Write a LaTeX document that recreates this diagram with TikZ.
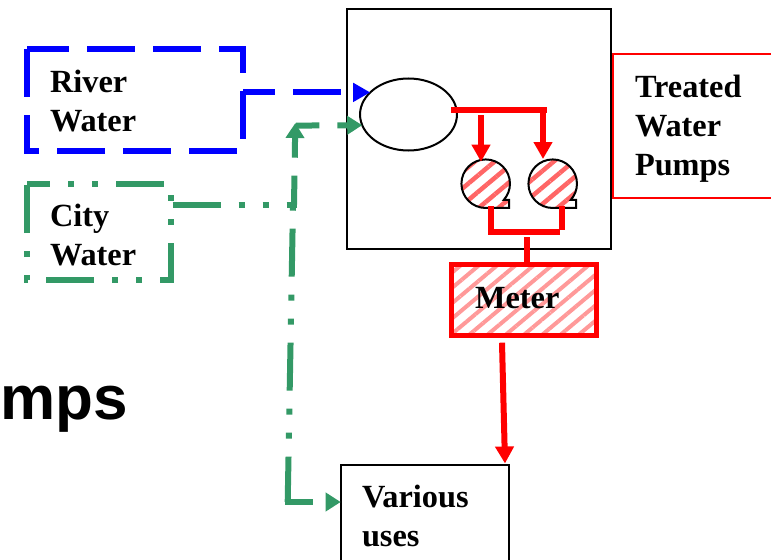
\documentclass[tikz,border=0pt]{standalone}
\usepackage{fontspec}
\setmainfont{Liberation Serif}
\newfontfamily\headfont{Liberation Sans}
\usetikzlibrary{arrows.meta,patterns.meta,shapes.geometric}
\definecolor{riverblue}{RGB}{0,0,255}
\definecolor{citygreen}{RGB}{51,153,102}
\tikzset{
  every node/.append style={outer sep=0pt},
  boxlabel/.style={anchor=base west,align=left,inner sep=0pt,font=\fontsize{24.25}{28.9}\selectfont\bfseries},
  plainbox/.style={draw=none,minimum width=#1,inner sep=0pt},
  riverline/.style={draw=riverblue,line width=4.5pt,dash pattern=on 36pt off 13.5pt},
  cityline/.style={draw=citygreen,line width=4.5pt,dash pattern=on 36pt off 13.5pt on 4.5pt off 13.5pt on 4.5pt off 13.5pt},
  redpipe/.style={draw=red,line width=4.5pt},
  bluetip/.style={-{Triangle[length=12.75pt,width=13.5pt]}},
  greentip/.style={-{Triangle[length=11.25pt,width=13.5pt]}},
  redtip/.style={-{Triangle[length=12.75pt,width=13.5pt]}},
  pumphatch/.style={pattern={Lines[angle=40,distance=9.5pt,line width=3.4pt]},pattern color=red!60},
  meterhatch/.style={pattern={Lines[angle=40,distance=8.8pt,line width=3pt]},pattern color=red!40}
}
\begin{document}
\begin{tikzpicture}[x=0.75pt,y=-0.75pt]
\clip (0,0) rectangle (771,560);

% tank and basin
\node[draw,line width=1.5pt,minimum width=198pt,minimum height=179.5pt,inner sep=0pt] (tank) at (478.7,128.9) {};
\node[draw,ellipse,fill=white,line width=1.5pt,minimum width=72.7pt,minimum height=54pt,inner sep=0pt] (basin) at (408.5,114.5) {};

% treated water
\node[draw=red,line width=1.5pt,minimum width=125pt,minimum height=108pt,inner sep=0pt] (treated) at (696.3,126.3) {};
\node[boxlabel] (treatedlabel) at (635,175) {Treated\\Water\\Pumps};

% river
\node[plainbox=162pt,minimum height=76.5pt] (river) at (135,100) {};
\draw[riverline,dash phase=4.5pt] (river.north west) -- (river.north east) -- (river.south east) -- (river.south west) -- cycle;
\node[boxlabel] (riverlabel) at (50,131) {River\\Water};
\draw[riverline,bluetip,dash phase=12pt] (river.east |- basin.150) -- (basin.150);

% city
\node[plainbox=108pt,minimum height=72pt] (city) at (99,232) {};
\draw[cityline,dash phase=18.75pt] (city.north west) -- (city.north east) -- (city.south east) -- (city.south west) -- cycle;
\node[boxlabel] (citylabel) at (50,265.5) {City\\Water};

% green pipes
\coordinate (cityout) at (172.7,204.7);
\coordinate (cornerright) at (296.7,204.7);
\coordinate (cornerup) at (294,204.7);
\coordinate (cornertop) at (295.3,123);
\coordinate (basinstart) at (296,125.6);
\coordinate (cornerdown) at (293,204.7);
\coordinate (cornerlow) at (287.7,502);
\coordinate (cornerlowleft) at (284.7,502);
\draw[cityline] (cityout) -- (cornerright);
\draw[cityline,greentip,dash pattern=on 36pt off 13.5pt,dash phase=14.25pt] (cornerup) -- (cornertop);
\draw[cityline,greentip,dash pattern=on 36pt off 13.5pt,dash phase=18.5pt] (basinstart) -- (basin.193);
\draw[cityline,dash phase=67.5pt] (cornerdown) -- (cornerlow);

% various uses
\node[draw,fill=white,line width=1.5pt,minimum width=126pt,minimum height=100pt,anchor=north west,inner sep=0pt] (various) at (340.7,465.3) {};
\node[boxlabel] (variouslabel) at (362,546) {Various\\uses};
\draw[cityline,greentip,dash pattern=on 36pt off 13.5pt,dash phase=15pt] (cornerlowleft) -- (various.west |- cornerlow);

% pumps
\node[circle,minimum size=36.4pt,inner sep=0pt] (pumpleft) at (485.7,183.7) {};
\node[circle,minimum size=36.4pt,inner sep=0pt] (pumpright) at (552.7,183.7) {};
\foreach \pump in {pumpleft,pumpright}{
  \draw[pumphatch,line width=1.5pt] (\pump.south) arc[start angle=-90,end angle=-402,radius=18.2pt] -- ++(5.3,0) -- ++(0,8) -- cycle;
}

% red pipes
\coordinate (basinout) at (451,110);
\coordinate (teeend) at (547,110);
\coordinate (tankleft) at (481,115);
\coordinate (tankright) at (543,110);
\coordinate (pumpoutleft) at (490.7,206);
\coordinate (pumpoutright) at (562,206);
\coordinate (teeleft) at (490.7,232);
\coordinate (teeright) at (560,232);
\coordinate (teeright2) at (562,229.5);
\coordinate (stemtop) at (527,237);
\draw[redpipe] (basinout) -- (teeend);
\draw[redpipe,redtip] (tankleft) -- (481,161.7);
\draw[redpipe,redtip] (tankright) -- (543,159);
\draw[redpipe] (pumpoutleft) -- (teeleft) -- (teeright);
\draw[redpipe] (pumpoutright) -- (teeright2);

% meter
\node[draw=red,meterhatch,line width=3.75pt,minimum width=108.3pt,minimum height=53.7pt,inner sep=0pt] (meter) at (524,300) {};
\node[boxlabel] (meterlabel) at (475,308) {Meter};
\draw[redpipe] (stemtop) -- (stemtop |- meter.north);
\coordinate (meterout) at (502,342.7);
\coordinate (variousin) at (505,463.5);
\draw[redpipe,redtip] (meterout) -- (variousin);

% heading remainder
\node[anchor=base east,inner sep=0pt,font=\headfont\bfseries\fontsize{46.5}{50}\selectfont] (heading) at (128,419) {mps};
\end{tikzpicture}
\end{document}
